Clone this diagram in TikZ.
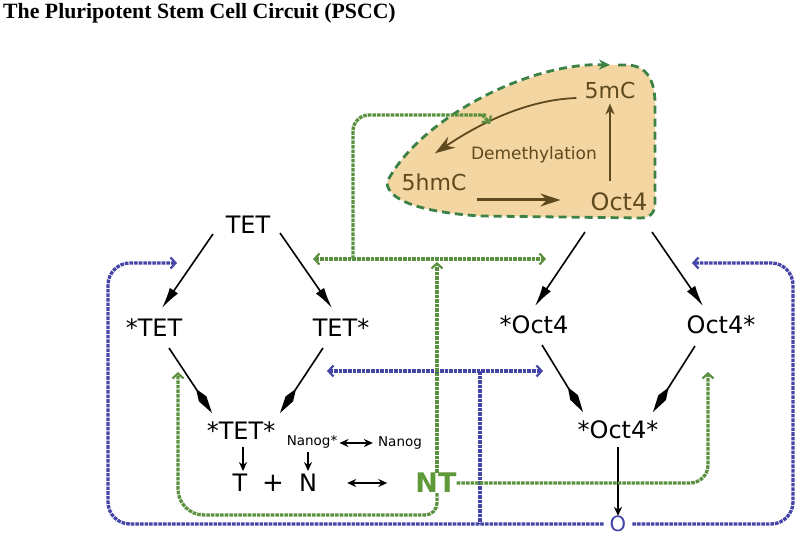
\documentclass[tikz,border=0pt]{standalone}
\usepackage{fontspec}
\setmainfont{DejaVu Sans}
\newfontfamily\titlefont{Liberation Serif}
\usetikzlibrary{arrows.meta,calc}
\definecolor{fbblue}{HTML}{4545A8}
\definecolor{fbgreen}{HTML}{5A9040}
\definecolor{blobgreen}{HTML}{3C8246}
\definecolor{blobfill}{HTML}{F4D6A2}
\definecolor{brownc}{HTML}{5E4A1E}
\definecolor{ntgreen}{HTML}{5E9A3A}
\begin{document}
\begin{tikzpicture}[x=1pt,y=-1pt,
  lab/.style={font=\fontsize{24}{24}\selectfont, inner sep=0pt},
  smalllab/.style={font=\fontsize{13.5}{14}\selectfont, inner sep=0pt},
  brlab/.style={font=\fontsize{22}{22}\selectfont, text=brownc, inner sep=0pt},
  uparrow/.style={-{Latex[length=21pt,width=10pt]}, line width=1.6pt},
  lowarrow/.style={-{Kite[length=29pt,width=9pt,inset=12pt]}, line width=1.6pt},
  blackarrow/.style={-{Stealth[length=9pt,width=8pt]}, line width=1.7pt},
  dblarrow/.style={{Stealth[length=9pt,width=8pt]}-{Stealth[length=9pt,width=8pt]}, line width=2pt},
  bluefb/.style={draw=fbblue, line width=3.3pt, dash pattern=on 3.6pt off 1pt},
  greenfb/.style={draw=fbgreen, line width=3.3pt, dash pattern=on 3.6pt off 1pt},
  fbtip/.style={-{Straight Barb[length=5pt,width=11pt,line width=2.2pt]}},
  fbtips/.style={{Straight Barb[length=5pt,width=11pt,line width=2.2pt]}-{Straight Barb[length=5pt,width=11pt,line width=2.2pt]}},
  brownarrow/.style={draw=brownc, -{Stealth[length=20pt,width=13pt]}}
]
\useasboundingbox (0,0) rectangle (800,537);

% title
\node[anchor=west, inner sep=0pt, font=\titlefont\bfseries\fontsize{21.8}{22}\selectfont] (title) at (3,13) {The Pluripotent Stem Cell Circuit (PSCC)};

% blob
\fill[blobfill] (612,65) -- (626,65) .. controls (648,65) and (655,82) .. (655,104) -- (655,203)
  .. controls (655,213) and (650,218) .. (640,218) -- (480,216)
  .. controls (420,212) and (387,200) .. (387,182)
  .. controls (420,118) and (530,62) .. (612,65) -- cycle;
\draw[blobgreen, line width=2.8pt, dash pattern=on 8pt off 5pt, -{Stealth[length=11pt,width=10pt]}]
  (618,65) -- (626,65) .. controls (648,65) and (655,82) .. (655,104) -- (655,203)
  .. controls (655,213) and (650,218) .. (640,218) -- (480,216)
  .. controls (420,212) and (387,200) .. (387,182)
  .. controls (420,118) and (530,62) .. (610,65);

\node[brlab] (mC) at (610,90) {5mC};
\node[brlab] (hmC) at (434,182) {5hmC};
\node[brlab, font=\fontsize{24}{24}\selectfont] (bOct) at (619,202) {Oct4};
\node[brlab, font=\fontsize{17}{17}\selectfont] (demeth) at (534,155) {Demethylation};

\draw[brownarrow, line width=1.8pt] ($(mC.west)+(-8,8)$) .. controls (520,100) and (470,130) .. ($(hmC.north)+(1,-20)$);
\draw[brownarrow, line width=3pt] ($(hmC.east)+(10,18)$) -- ($(bOct.west)+(-30,-2)$);
\draw[draw=brownc, line width=2pt, -{Stealth[length=11pt,width=9pt]}] ($(bOct.north)+(-9,-12)$) -- ($(mC.south)+(0,5)$);

% main labels
\node[lab] (TET) at (248,225) {TET};
\node[lab] (sTET) at (154,328) {*TET};
\node[lab] (TETs) at (341,328) {TET*};
\node[lab] (sTETs) at (241,431) {*TET*};
\node[lab] (sOct) at (534,325) {*Oct4};
\node[lab] (Octs) at (721,325) {Oct4*};
\node[lab] (sOcts) at (618,430) {*Oct4*};
\node[smalllab] (Nanogs) at (312,442) {Nanog*};
\node[smalllab] (Nanog) at (400,443) {Nanog};
\node[lab] (T) at (240,483) {T};
\node[lab, font=\fontsize{26}{26}\selectfont] (plus) at (273,483) {+};
\node[lab] (N) at (308,483) {N};
\node[inner sep=0pt, font=\bfseries\fontsize{27}{27}\selectfont, text=ntgreen] (NT) at (436,483) {NT};
\node[inner sep=0pt, font=\fontsize{21}{21}\selectfont, text=fbblue] (O) at (618,524) {O};

% black arrows
\draw[uparrow] ($(TET)+(-35,9)$) -- ($(sTET)+(8,-20)$);
\draw[uparrow] ($(TET)+(32,8)$) -- ($(TETs)+(-9,-20)$);
\draw[lowarrow] ($(sTET)+(15,20)$) -- ($(sTETs)+(-29,-18)$);
\draw[lowarrow] ($(TETs)+(-18,20)$) -- ($(sTETs)+(39,-18)$);
\draw[uparrow] ($(bOct)+(-34,30)$) -- ($(sOct)+(1,-19)$);
\draw[uparrow] ($(bOct)+(33,30)$) -- ($(Octs)+(-18,-19)$);
\draw[lowarrow] ($(sOct)+(8,20)$) -- ($(sOcts)+(-35,-18)$);
\draw[lowarrow] ($(Octs)+(-26,21)$) -- ($(sOcts)+(35,-18)$);
\draw[blackarrow] (sOcts.south) ++(0,8) -- (O.north);
\draw[blackarrow] ($(sTETs)+(2,16)$) -- ($(T.north)+(3,-3)$);
\draw[blackarrow] (Nanogs.south) ++(-4,3) -- ($(N.north)+(0,-3)$);
\draw[dblarrow] ($(Nanogs.east)+(2,1)$) -- ($(Nanog.west)+(-5,0)$);
\draw[dblarrow] ($(N.east)+(30,0)$) -- ($(NT.west)+(-28,0)$);

% blue feedback
\coordinate (b1) at (177,263);
\coordinate (b2) at (692,263);
\coordinate (bl) at (327,371);
\coordinate (br) at (543,371);
\coordinate (bj) at (480,371);
\draw[bluefb, fbtip, rounded corners=22pt] ($(O.west)+(-6,0)$) -| (108,263) -- (b1);
\draw[bluefb, fbtip, rounded corners=22pt] ($(O.east)+(6,0)$) -| (793,263) -- (b2);
\draw[bluefb, fbtips] (bl) -- (br);
\draw[bluefb] (bj) -- (480,523);

% green feedback
\coordinate (gl) at (313,259);
\coordinate (gr) at (546,259);
\coordinate (gj) at (353,259);
\coordinate (gt) at (437,262);
\coordinate (g4) at (708,372);
\coordinate (g5) at (178,372);
\draw[greenfb, fbtips] (gl) -- (gr);
\draw[greenfb, fbtip] (NT.north) ++(1,0) -- (gt);
\draw[greenfb, fbtip, rounded corners=16pt] (gj) |- (470,115) .. controls (480,115) and (486,118) .. (490,124);
\draw[greenfb, fbtip, rounded corners=18pt] (NT.east) -| (g4);
\draw[greenfb, fbtip] (NT.south) ++(1,0) [rounded corners=12pt] |- (300,515) [rounded corners=26pt] -| (g5);
\end{tikzpicture}
\end{document}
